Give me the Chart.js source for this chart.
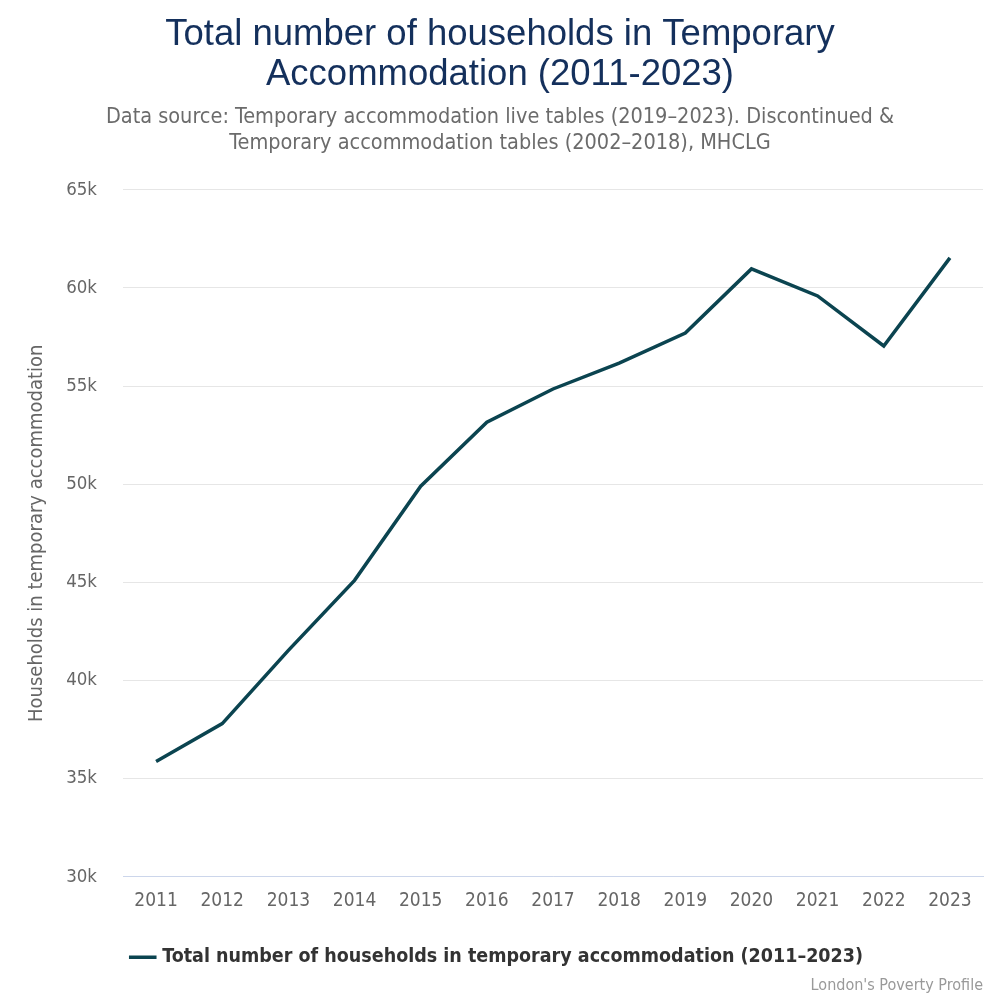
<!DOCTYPE html>
<html>
<head>
<meta charset="utf-8">
<script src="https://cdn.jsdelivr.net/npm/chart.js@4/dist/chart.umd.min.js"></script>
<style>
  body { margin: 0; background: #fff; }
  .chart-container { position: relative; width: 1000px; height: 1000px; }
  .credit { position: absolute; right: 17px; bottom: 6px; font: 16px "Liberation Sans Narrow", "DejaVu Sans Condensed", sans-serif; color: #999; }
</style>
</head>
<body>
<div class="chart-container">
  <canvas id="myChart"></canvas>
  <div class="credit">London's Poverty Profile</div>
</div>
<script>
const years = ["2011", "2012", "2013", "2014", "2015", "2016", "2017", "2018", "2019", "2020", "2021", "2022", "2023"];
const households = [35870, 37800, 41530, 45100, 49900, 53160, 54850, 56170, 57700, 60970, 59590, 57040, 61530];
const seriesName = "Total number of households in temporary accommodation (2011\u20132023)";
const yTicks = [30000, 35000, 40000, 45000, 50000, 55000, 60000, 65000];

const narrow = "'Liberation Sans Narrow', 'DejaVu Sans Condensed', sans-serif";

const ctx = document.getElementById("myChart").getContext("2d");
new Chart(ctx, {
    type: "line",
    data: {
        labels: years,
        datasets: [
            {
                label: seriesName,
                data: households,
                borderColor: "#0b4450",
                backgroundColor: "#0b4450",
                borderWidth: 3.5,
                pointRadius: 0,
                pointHoverRadius: 0,
                tension: 0
            }
        ]
    },
    options: {
        responsive: true,
        maintainAspectRatio: false,
        animation: false,
        layout: {
            padding: { left: 17, right: 17, top: 8, bottom: 23 }
        },
        plugins: {
            title: {
                display: true,
                text: ["Total number of households in Temporary", "Accommodation (2011-2023)"],
                color: "#14305c",
                font: { family: "'Liberation Sans', Arial, sans-serif", size: 36.5, weight: "normal", lineHeight: 1.12 },
                padding: { top: 6, bottom: 9 }
            },
            subtitle: {
                display: true,
                text: ["Data source: Temporary accommodation live tables (2019\u20132023). Discontinued &", "Temporary accommodation tables (2002\u20132018), MHCLG"],
                color: "#6b6b6b",
                font: { family: narrow, size: 21.5, weight: "normal", lineHeight: 1.21 },
                padding: { top: 0, bottom: 33 }
            },
            legend: {
                position: "bottom",
                align: "start",
                fullSize: false,
                labels: {
                    usePointStyle: true,
                    pointStyle: "line",
                    boxWidth: 30,
                    color: "#333",
                    font: { family: narrow, size: 19.5, weight: "bold" },
                    padding: 10
                }
            },
            tooltip: { enabled: false }
        },
        scales: {
            x: {
                offset: true,
                grid: { display: false },
                border: { color: "#ccd6eb", width: 1 },
                ticks: { color: "#666", font: { family: narrow, size: 19 }, padding: 5, maxRotation: 0 },
                afterFit: axis => { axis.height += 20; }
            },
            y: {
                min: 30000,
                max: 65000,
                afterBuildTicks: axis => { axis.ticks = yTicks.map(v => ({ value: v })); },
                afterFit: axis => { axis.width = 106; },
                grid: { color: "#e6e6e6", drawTicks: false },
                border: { display: false },
                ticks: {
                    color: "#666",
                    font: { family: narrow, size: 18.5 },
                    padding: 26,
                    callback: v => (v / 1000) + "k"
                },
                title: {
                    display: true,
                    text: "Households in temporary accommodation",
                    color: "#666",
                    font: { family: narrow, size: 20 },
                    padding: { top: 8, bottom: 0 }
                }
            }
        }
    }
});
</script>
</body>
</html>
